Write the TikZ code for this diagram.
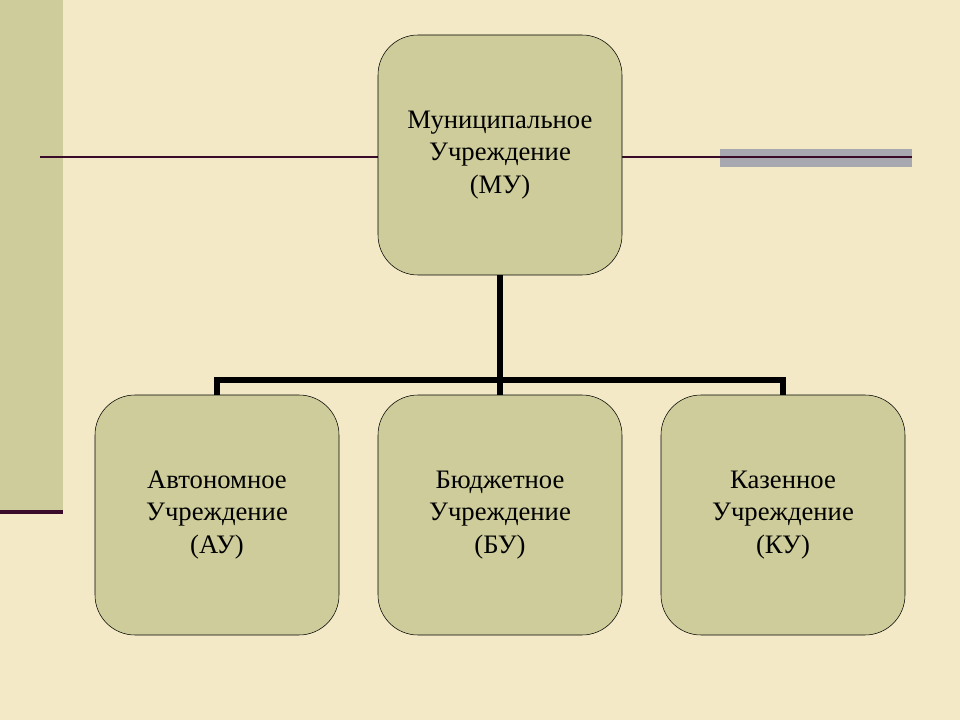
\documentclass[tikz,border=0pt]{standalone}
\usepackage{fontspec}
\setmainfont{Liberation Serif}
\usetikzlibrary{positioning}
\definecolor{paper}{HTML}{F3E9C6}
\definecolor{olive}{HTML}{CDCC9A}
\definecolor{plum}{HTML}{3A0A2A}
\definecolor{slate}{HTML}{A8A8B0}
\begin{document}
\begin{tikzpicture}[x=0.75pt,y=-0.75pt,
    unit/.style={draw=black,fill=olive,rounded corners=30pt,minimum width=183pt,minimum height=180pt,
        align=center,font=\fontsize{20}{24.5}\selectfont,inner sep=0pt},
    tree/.style={line width=4.5pt}]
    % background and frame
    \fill[paper] (0,0) rectangle (960,720);
    \useasboundingbox (0,0) rectangle (960,720);
    \fill[olive] (0,0) rectangle (63,512);
    \draw[plum,line width=3pt] (0,512) -- (63,512);
    \draw[plum,line width=1.5pt] (40,157) -- (912,157);
    \fill[slate] (720,149) rectangle (912,167);
    \draw[plum,line width=1.5pt] (720,157) -- (912,157);
    % boxes
    \node[unit](mu) at (500,155) {Муниципальное\\Учреждение\\(МУ)};
    \node[unit](au) at (217,515) {Автономное\\Учреждение\\(АУ)};
    \node[unit](bu) at (500,515) {Бюджетное\\Учреждение\\(БУ)};
    \node[unit](ku) at (783,515) {Казенное\\Учреждение\\(КУ)};
    % connectors
    \coordinate (fork) at (500,380);
    \draw[tree] (mu.south) -- (fork);
    \draw[tree] (au.north) -- (au.north |- fork) -- (ku.north |- fork) -- (ku.north);
    \draw[tree] (fork) -- (bu.north);
\end{tikzpicture}
\end{document}
